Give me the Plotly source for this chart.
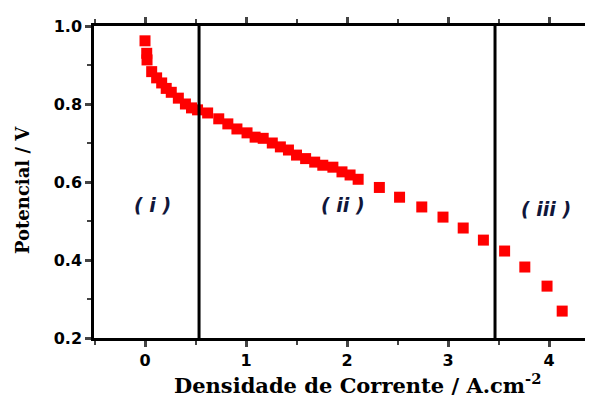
import plotly.graph_objects as go

current = [0.0, 0.017, 0.02, 0.066, 0.115, 0.165, 0.21, 0.26, 0.33, 0.40, 0.46, 0.52,
           0.62, 0.73, 0.82, 0.91, 1.01, 1.09, 1.17, 1.26, 1.34, 1.42, 1.50, 1.59,
           1.68, 1.76, 1.86, 1.95, 2.03, 2.11, 2.32, 2.52, 2.74, 2.95, 3.15, 3.35,
           3.56, 3.76, 3.98, 4.13]
potential = [0.962, 0.93, 0.913, 0.883, 0.867, 0.854, 0.84, 0.83, 0.815, 0.80, 0.79, 0.785,
             0.777, 0.762, 0.749, 0.736, 0.726, 0.715, 0.712, 0.70, 0.69, 0.682, 0.669, 0.66,
             0.651, 0.643, 0.638, 0.626, 0.618, 0.607, 0.586, 0.561, 0.536, 0.51, 0.482, 0.451,
             0.423, 0.382, 0.333, 0.269]
region_bounds = [0.535, 3.465]
region_labels = ["( i )", "( ii )", "( iii )"]
region_label_x = [0.07, 1.96, 3.97]
region_label_y = [0.541, 0.541, 0.531]
x_ticks = [0, 1, 2, 3, 4]
y_ticks = [0.2, 0.4, 0.6, 0.8, 1.0]

SANS = "DejaVu Sans"
SERIF = "DejaVu Serif"

fig = go.Figure()
fig.add_trace(go.Scatter(x=current, y=potential, mode="markers",
                         marker=dict(symbol="square", size=11, color="#ff0000"),
                         showlegend=False))
for xb in region_bounds:
    fig.add_shape(type="line", x0=xb, x1=xb, y0=0.2, y1=1.0, xref="x", yref="y",
                  line=dict(color="black", width=3))
for t, xx, yy in zip(region_labels, region_label_x, region_label_y):
    fig.add_annotation(x=xx, y=yy, text="<b><i>" + t + "</i></b>", showarrow=False,
                       font=dict(family=SANS, size=19, color="#10163a"))

fig.add_annotation(xref="paper", yref="paper", x=(357 - 94) / 499, y=-(384 - 338) / 312,
                   xanchor="center", yanchor="middle", showarrow=False,
                   text="<b>Densidade de Corrente / A.cm<sup>-2</sup></b>",
                   font=dict(family=SERIF, size=21, color="black"))
fig.add_annotation(xref="paper", yref="paper", x=-(94 - 22) / 499, y=(338 - 190) / 312,
                   xanchor="center", yanchor="middle", showarrow=False, textangle=-90,
                   text="<b>Potencial / V</b>",
                   font=dict(family=SERIF, size=18, color="black"))

# the page body has an 8px margin, so the figure is drawn 8px smaller in each direction
fig.update_layout(
    width=585, height=393,
    margin=dict(l=86, r=0, t=18, b=63),
    plot_bgcolor="white", paper_bgcolor="white",
    xaxis=dict(range=[-0.505, 4.435], tickvals=x_ticks,
               ticktext=["<b>%d</b>" % v for v in x_ticks], ticks="outside",
               ticklen=6, tickwidth=2.5, linecolor="black", linewidth=2.5,
               showline=True, mirror="ticks", showgrid=False, zeroline=False,
               automargin=False,
               tickfont=dict(family=SANS, size=16, color="black"),
               minor=dict(dtick=0.5, tick0=0, ticks="outside", ticklen=4, tickwidth=2)),
    yaxis=dict(range=[0.2, 1.0], tickvals=y_ticks,
               ticktext=["<b>%.1f</b>" % v for v in y_ticks],
               ticks="outside", ticklen=6, tickwidth=2.5, linecolor="black", linewidth=2.5,
               showline=True, mirror=False, showgrid=False, zeroline=False,
               automargin=False,
               tickfont=dict(family=SANS, size=16, color="black"),
               minor=dict(dtick=0.1, tick0=0.2, ticks="outside", ticklen=4, tickwidth=2)),
)

fig.write_html("out.html")
